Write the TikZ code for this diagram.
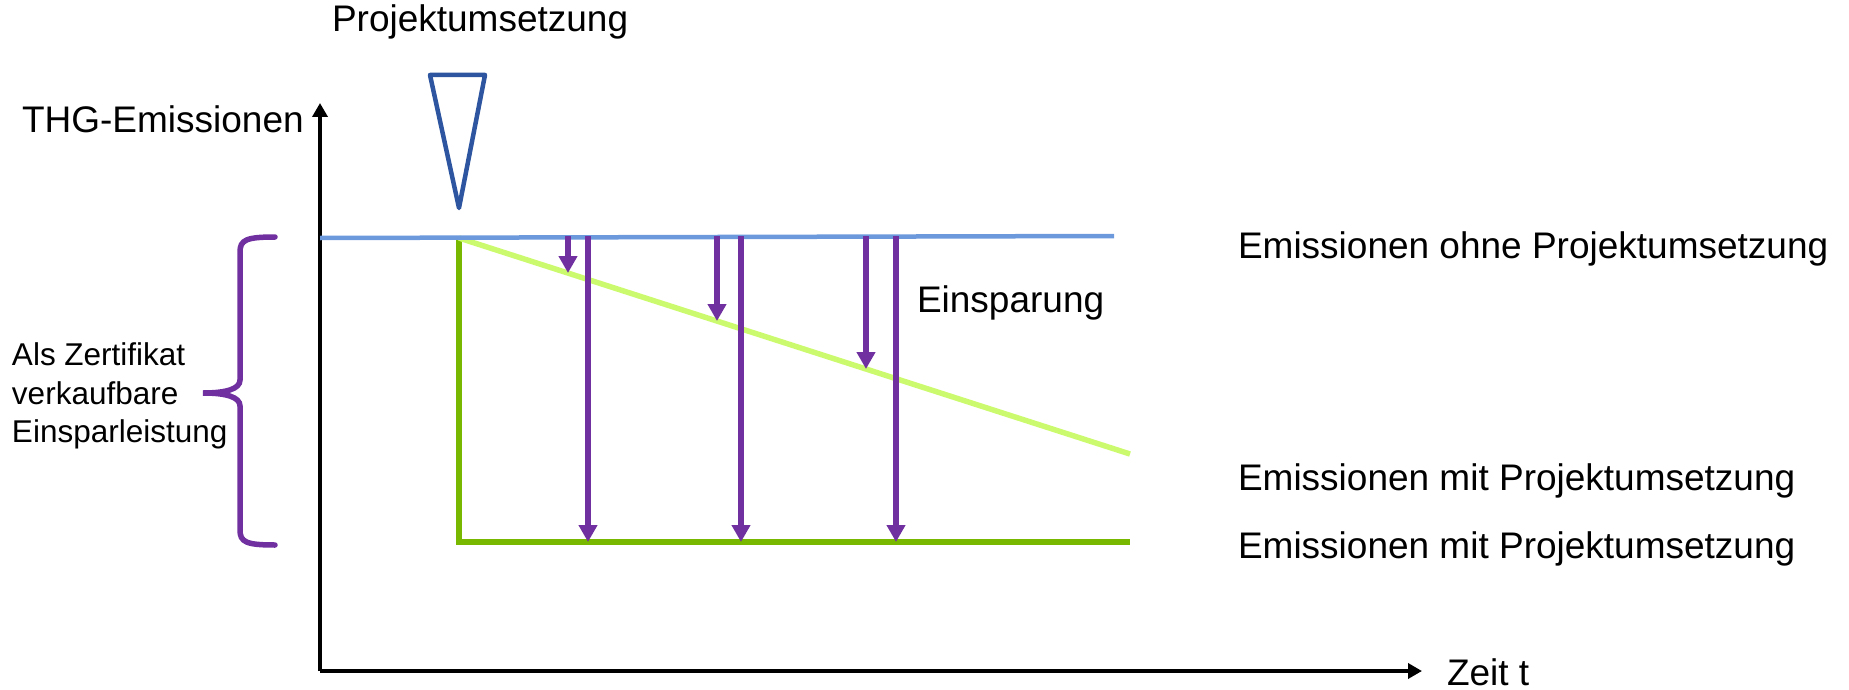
\documentclass[tikz,border=0pt]{standalone}
\usepackage{fontspec}
\setmainfont{Liberation Sans}
\usetikzlibrary{arrows.meta}
\definecolor{axisblack}{RGB}{0,0,0}
\definecolor{basblue}{RGB}{108,152,220}
\definecolor{tridblue}{RGB}{46,86,160}
\definecolor{lgreen}{RGB}{204,250,110}
\definecolor{dgreen}{RGB}{120,185,0}
\definecolor{purp}{RGB}{112,48,160}
\tikzset{
  lbl/.style={inner sep=0pt, outer sep=0pt, anchor=base west, font=\fontsize{37}{44}\selectfont},
  axisline/.style={line width=4.5pt, draw=axisblack, -{Triangle[length=14pt,width=15pt]}},
  savearrow/.style={line width=5.5pt, draw=purp, -{Triangle[length=17pt,width=18pt]}},
  baseline/.style={line width=4.5pt, draw=basblue},
  lgline/.style={line width=5.5pt, draw=lgreen},
  dgline/.style={line width=5.5pt, draw=dgreen},
}
\begin{document}
\begin{tikzpicture}[x=1pt,y=-1pt]
\useasboundingbox (0,0) rectangle (1849,690);
% coordinates
\coordinate (O) at (320,671);
\coordinate (Ytip) at (320,103);
\coordinate (Xtip) at (1422,671);
\coordinate (B0) at (320,238);
\coordinate (B1) at (1114,236);
\coordinate (P0) at (459,238);
\coordinate (L1) at (1130,454);
\coordinate (G0) at (459,240);
\coordinate (G1) at (459,542);
\coordinate (G2) at (1130,542);
\coordinate (T1) at (430,75);
\coordinate (T2) at (485,75);
\coordinate (T3) at (459,208);
% axes
\draw[axisline] (O) -- (Ytip);
\draw[axisline] (O) -- (Xtip);
% emission lines
\draw[dgline, line join=miter] (G0) -- (G1) -- (G2);
\draw[lgline] (P0) -- (L1);
\draw[baseline] (B0) -- (B1);
% triangle marker
\draw[tridblue, line width=4.5pt, line join=round] (T1) -- (T2) -- (T3) -- cycle;
% savings arrows
\foreach \n/\xs/\ys/\xl in {a/568/273/588, b/717/321/741, c/866/369/896}{
  \coordinate (s\n0) at (\xs,236);
  \coordinate (s\n1) at (\xs,\ys);
  \coordinate (l\n0) at (\xl,236);
  \coordinate (l\n1) at (\xl,542);
  \draw[savearrow] (s\n0) -- (s\n1);
  \draw[savearrow] (l\n0) -- (l\n1);
}
% brace
\coordinate (Btop) at (275,237);
\coordinate (Btip) at (203,393);
\coordinate (Bbot) at (275,545);
\draw[purp, line width=5.5pt, line cap=round]
  (Btop) .. controls (246,237) and (240,240) .. (240,252) -- (240,380)
  .. controls (240,389) and (226,393) .. (Btip)
  .. controls (226,393) and (240,397) .. (240,406) -- (240,530)
  .. controls (240,542) and (246,545) .. (Bbot);
% labels
\node[lbl] (ylab) at (22,132) {THG-Emissionen};
\node[lbl] (proj) at (332,32) {Projektumsetzung};
\node[lbl] (eins) at (917,312) {Einsparung};
\node[lbl] (ohne) at (1238,258) {Emissionen ohne Projektumsetzung};
\node[lbl] (mit1) at (1238,490) {Emissionen mit Projektumsetzung};
\node[lbl] (mit2) at (1238,558) {Emissionen mit Projektumsetzung};
\node[lbl] (xlab) at (1447,685) {Zeit t};
\node[inner sep=0pt, outer sep=0pt, anchor=west, align=left,
      font=\fontsize{31.5}{38.5}\selectfont] (cert) at (12,396)
  {Als Zertifikat\\verkaufbare\\Einsparleistung};
\end{tikzpicture}
\end{document}
